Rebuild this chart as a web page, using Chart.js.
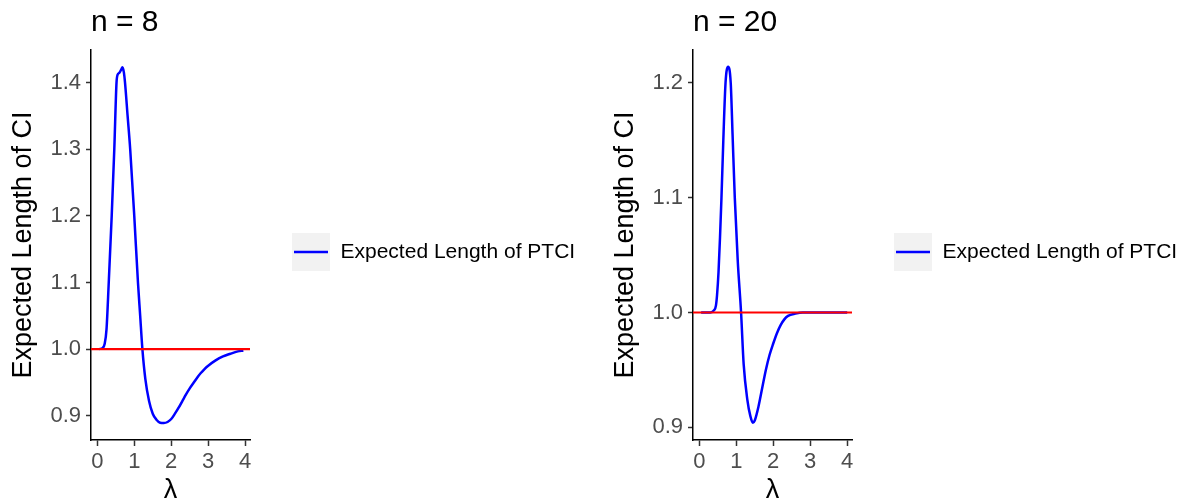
<!DOCTYPE html>
<html>
<head>
<meta charset="utf-8">
<script src="https://cdn.jsdelivr.net/npm/chart.js@4.4.1/dist/chart.umd.min.js"></script>
<style>
  body { margin: 0; background: #fff; width: 1182px; height: 504px; overflow: hidden; position: relative; }
  .panel { position: absolute; top: 0; width: 600px; height: 504px; }
  #panel8 { left: 0; }
  #panel20 { left: 602px; }
</style>
</head>
<body>
<div class="panel" id="panel8"><canvas id="chart8" width="600" height="504"></canvas></div>
<div class="panel" id="panel20"><canvas id="chart20" width="600" height="504"></canvas></div>
<script>
// n = 8
const lambda8 = [0.05, 0.15, 0.2, 0.25, 0.31, 0.39, 0.46, 0.52, 0.55, 0.6, 0.65, 0.68, 0.72, 0.75, 0.82, 0.89, 1.0, 1.1, 1.16, 1.22, 1.3, 1.4, 1.5, 1.6, 1.7, 1.8, 1.9, 2.0, 2.1, 2.2, 2.3, 2.4, 2.5, 2.6, 2.7, 2.8, 2.9, 3.0, 3.2, 3.4, 3.6, 3.8, 3.95];
const length8 = [1.0, 1.002, 1.008, 1.03, 1.1, 1.2, 1.3, 1.4, 1.412, 1.415, 1.42, 1.423, 1.415, 1.4, 1.35, 1.3, 1.2, 1.1, 1.05, 1.0, 0.955, 0.922, 0.903, 0.894, 0.8895, 0.889, 0.8905, 0.895, 0.903, 0.912, 0.922, 0.932, 0.941, 0.949, 0.957, 0.964, 0.97, 0.975, 0.983, 0.989, 0.993, 0.9965, 0.998];

// n = 20
const lambda20 = [0.05, 0.2, 0.3, 0.4, 0.45, 0.48, 0.52, 0.56, 0.6, 0.65, 0.71, 0.78, 0.85, 0.9, 0.96, 1.04, 1.13, 1.2, 1.3, 1.38, 1.45, 1.5, 1.6, 1.7, 1.8, 1.9, 2.0, 2.1, 2.2, 2.3, 2.4, 2.6, 2.8, 3.0, 3.5, 4.0];
const length20 = [1.0, 1.0, 1.0, 1.002, 1.006, 1.015, 1.035, 1.065, 1.1, 1.15, 1.2, 1.214, 1.2, 1.155, 1.1, 1.045, 1.0, 0.955, 0.924, 0.91, 0.904, 0.906, 0.918, 0.934, 0.95, 0.963, 0.973, 0.982, 0.989, 0.994, 0.997, 0.999, 1.0, 1.0, 1.0, 1.0];

// reference line at 1
const refLambda = [-0.2, 4.2];
const refLength = [1, 1];

const xTicks = [0, 1, 2, 3, 4];
const yTicks8 = [0.9, 1.0, 1.1, 1.2, 1.3, 1.4];
const yTicks20 = [0.9, 1.0, 1.1, 1.2];

const seriesLabel = "Expected Length of PTCI";
const yTitle = "Expected Length of CI";
const xTitle = "λ";

const FONT = "'Liberation Sans', Arial, sans-serif";
const PLOT_RIGHT = 250;

// legend key: grey box with a blue line, like ggplot
const keyIcon = document.createElement("canvas");
keyIcon.width = 38;
keyIcon.height = 38;
const k = keyIcon.getContext("2d");
k.fillStyle = "#F2F2F2";
k.fillRect(0, 0, 38, 38);
k.strokeStyle = "#0000FF";
k.lineWidth = 2.5;
k.beginPath();
k.moveTo(2, 19);
k.lineTo(36, 19);
k.stroke();

const toPoints = (xs, ys) => xs.map((x, i) => ({ x: x, y: ys[i] }));

const makeChart = (canvasId, title, xs, ys, yTicks, yMin, yMax) => {
  const ctx = document.getElementById(canvasId).getContext("2d");
  const chart = new Chart(ctx, {
    type: "line",
    data: {
      datasets: [
        {
          label: seriesLabel,
          data: toPoints(xs, ys),
          borderColor: "#0000FF",
          borderWidth: 2.5,
          pointRadius: 0,
          cubicInterpolationMode: "monotone",
          fill: false,
          order: 1,
        },
        {
          label: "reference",
          data: toPoints(refLambda, refLength),
          borderColor: "#FF0000",
          borderWidth: 2.2,
          pointRadius: 0,
          fill: false,
          clip: 0,
          order: 0,
        },
      ],
    },
    options: {
      responsive: false,
      animation: false,
      layout: { autoPadding: false, padding: { left: 0, right: 0, top: 0, bottom: 0 } },
      plugins: {
        title: {
          display: true,
          text: title,
          align: "start",
          fullSize: false,
          color: "#000",
          font: { family: FONT, size: 30, weight: "normal", lineHeight: 1.2 },
          padding: { top: 5, bottom: 9 },
        },
        legend: {
          position: "right",
          align: "center",
          maxWidth: 400,
          labels: {
            filter: (item) => item.datasetIndex === 0,
            usePointStyle: true,
            pointStyle: keyIcon,
            pointStyleWidth: 38,
            padding: 42,
            color: "#000",
            font: { family: FONT, size: 21 },
          },
        },
        tooltip: { enabled: false },
      },
      scales: {
        x: {
          type: "linear",
          min: -0.17,
          max: 4.13,
          afterFit: (scale) => { scale.height = 64; },
          afterBuildTicks: (scale) => { scale.ticks = xTicks.map((v) => ({ value: v })); },
          grid: { drawOnChartArea: false, tickLength: 6, tickColor: "#333", tickWidth: 1.5 },
          border: { display: true, color: "#000", width: 1.5 },
          ticks: { color: "#4D4D4D", padding: 3, font: { family: FONT, size: 22 } },
          title: {
            display: true,
            text: xTitle,
            color: "#000",
            font: { family: FONT, size: 27, lineHeight: 1 },
            padding: { top: 0, bottom: 0 },
          },
        },
        y: {
          type: "linear",
          min: yMin,
          max: yMax,
          afterFit: (scale) => { scale.width = 91; },
          afterBuildTicks: (scale) => { scale.ticks = yTicks.map((v) => ({ value: v })); },
          grid: { drawOnChartArea: false, tickLength: 5, tickColor: "#333", tickWidth: 1.5 },
          border: { display: true, color: "#000", width: 1.5 },
          ticks: {
            color: "#4D4D4D",
            padding: 5,
            font: { family: FONT, size: 22 },
            callback: (v) => Number(v).toFixed(1),
          },
          title: {
            display: true,
            text: yTitle,
            color: "#000",
            font: { family: FONT, size: 27, lineHeight: 1.2 },
            padding: { top: 7, bottom: 0 },
          },
        },
      },
    },
  });
  // keep the plot panel narrow like the original, legend sits to its right
  chart.options.layout.padding.right = Math.max(0, chart.chartArea.right - PLOT_RIGHT);
  chart.update();
  return chart;
};

makeChart("chart8", "n = 8", lambda8, length8, yTicks8, 0.8635, 1.449);
makeChart("chart20", "n = 20", lambda20, length20, yTicks20, 0.889, 1.2285);
</script>
</body>
</html>
